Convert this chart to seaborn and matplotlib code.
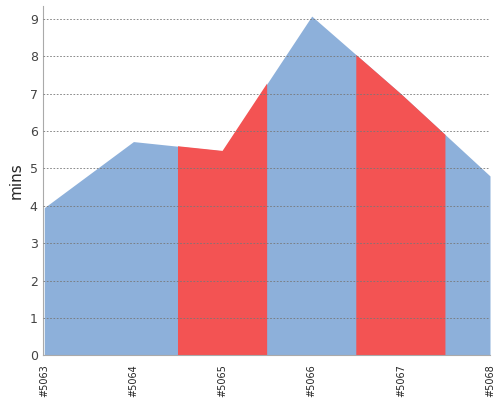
import matplotlib.pyplot as plt
import numpy as np
import pandas as pd
import seaborn as sns

builds = ["#5063", "#5064", "#5065", "#5066", "#5067", "#5068"]
mins = [3.95, 5.72, 5.47, 9.08, 7.0, 4.8]
# which gap between builds is highlighted (centred on each build)
failed = ["#5065", "#5067"]

sns.set_style("white")
plt.rcParams['font.family'] = ['DejaVu Sans']

fig, ax = plt.subplots(figsize=(5, 4), dpi=100)
pos = np.arange(len(builds))
df = pd.DataFrame({"pos": pos, "mins": mins})
sns.lineplot(data=df, x="pos", y="mins", ax=ax, color="#8db0da", linewidth=0)

xs = np.linspace(0, len(builds) - 1, 2001)
ys = np.interp(xs, pos, mins)
red = np.zeros_like(xs, dtype=bool)
for b in failed:
    i = builds.index(b)
    red |= (xs >= i - 0.5) & (xs <= i + 0.5)
ax.fill_between(xs, 0, ys, color="#8db0da", lw=0)
ax.fill_between(xs, 0, ys, where=red, color="#f35353", lw=0)

ax.set_xlim(-0.02, len(builds) - 1)
ax.set_ylim(0, 9.35)
ax.set_yticks(range(10))
ax.yaxis.grid(True, linestyle=(0, (2, 2)), color="#777777", linewidth=0.6)
ax.set_axisbelow(False)
ax.set_xticks(pos)
ax.set_xticklabels(builds, rotation=90, fontsize=7)
ax.tick_params(axis="y", labelsize=9, colors="#444444", length=0)
ax.tick_params(axis="x", length=3)
ax.set_xlabel("")
ax.set_ylabel("mins", fontsize=11)
for s in ["top", "right"]:
    ax.spines[s].set_visible(False)
for s in ["left", "bottom"]:
    ax.spines[s].set_color("#aaaaaa")
plt.subplots_adjust(left=0.085, right=0.98, top=0.985, bottom=0.112)
fig.savefig("out.png")
